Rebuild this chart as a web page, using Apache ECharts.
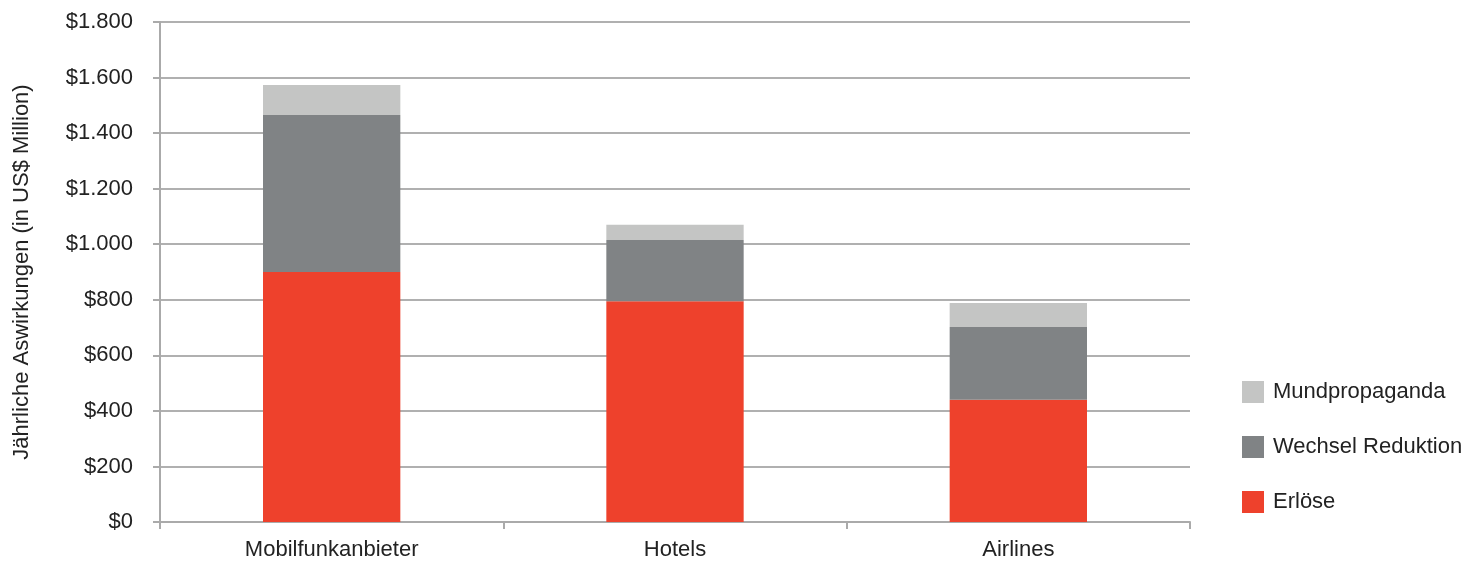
<!DOCTYPE html>
<html><head><meta charset="utf-8">
<script src="https://cdn.jsdelivr.net/npm/echarts@6/dist/echarts.min.js"></script>
<style>html,body{margin:0;padding:0;background:#fff}#c{width:1481px;height:561px}</style>
</head><body><div id="c"></div>
<script>
const categories = ["Mobilfunkanbieter", "Hotels", "Airlines"];
const erloese = [900, 795, 440];
const wechsel = [565, 220, 262];
const mund = [108, 55, 86];
const yTicks = [0, 200, 400, 600, 800, 1000, 1200, 1400, 1600, 1800];

function fmt(v){ return '$' + String(v).replace(/\B(?=(\d{3})+(?!\d))/g, '.'); }

const chart = echarts.init(document.getElementById('c'));
const font = 'Liberation Sans, Arial, sans-serif';
chart.setOption({
  animation: false,
  grid: { left: 160, right: 291, top: 22, bottom: 39, containLabel: false, outerBoundsMode: 'none' },
  legend: {
    orient: 'vertical', left: 1237, top: 376, itemWidth: 22, itemHeight: 22, itemGap: 33,
    icon: 'rect',
    data: ['Mundpropaganda', 'Wechsel Reduktion', 'Erlöse'],
    textStyle: { fontSize: 22, lineHeight: 22, color: '#222', fontFamily: font, padding: [0,0,0,4] }
  },
  xAxis: {
    type: 'category', data: categories,
    axisLine: { lineStyle: { color: '#aaa', width: 2 } },
    axisTick: { show: true, length: 7, lineStyle: { color: '#aaa', width: 2 } },
    axisLabel: { fontSize: 22, color: '#222', fontFamily: font, margin: 17 }
  },
  yAxis: {
    type: 'value', min: 0, max: yTicks[yTicks.length-1], interval: 200,
    name: 'Jährliche Aswirkungen (in US$ Million)', nameLocation: 'middle', nameGap: 127,
    nameTextStyle: { fontSize: 22, color: '#222', fontFamily: font },
    axisLine: { show: true, lineStyle: { color: '#aaa', width: 2 } },
    axisTick: { show: true, length: 7, lineStyle: { color: '#aaa', width: 2 } },
    splitLine: { lineStyle: { color: '#b0b0b0', width: 2 } },
    axisLabel: { fontSize: 22, color: '#222', fontFamily: font, margin: 27, formatter: fmt }
  },
  series: [
    { name: 'Erlöse', type: 'bar', stack: 's', data: erloese, barWidth: '40%', itemStyle: { color: '#EE412C' } },
    { name: 'Wechsel Reduktion', type: 'bar', stack: 's', data: wechsel, itemStyle: { color: '#808385' } },
    { name: 'Mundpropaganda', type: 'bar', stack: 's', data: mund, itemStyle: { color: '#C4C5C4' } }
  ]
});
</script></body></html>
